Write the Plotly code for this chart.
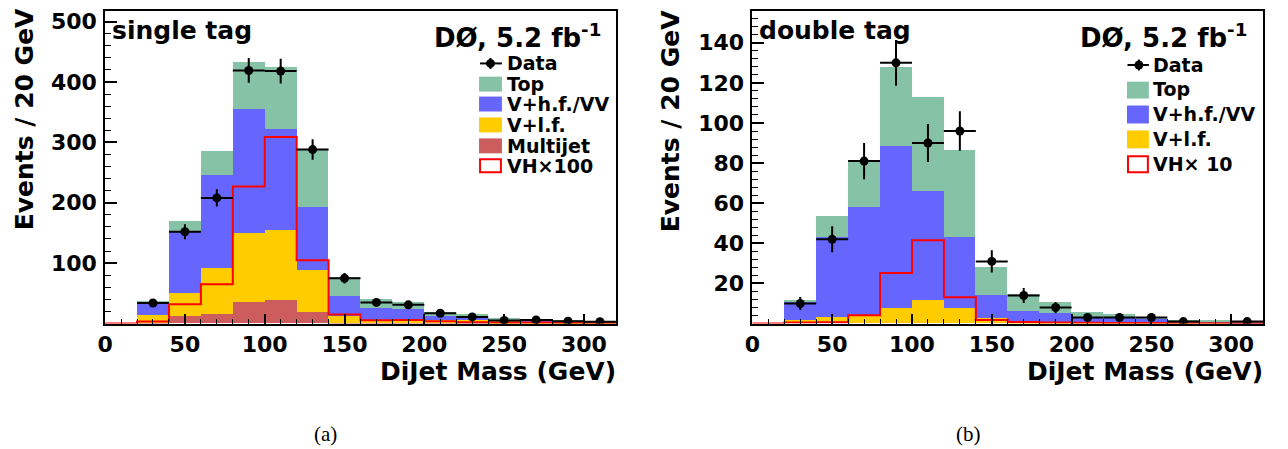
import plotly.graph_objects as go

# ---------------- data ----------------
bin_edges = [0, 20, 40, 60, 80, 100, 120, 140, 160, 180, 200, 220, 240, 260, 280, 300, 320]
x_tick_vals = [0, 50, 100, 150, 200, 250, 300]

# single tag (a)
st_multijet = [0, 1, 12, 15, 35, 39, 18, 1, 1, 1, 0.5, 0.5, 0.3, 0.3, 0.2, 0.2]
st_vlf = [0, 12, 38, 77, 114, 115, 70, 11.6, 5, 5, 4.5, 5.5, 2.7, 2.2, 1.8, 1.3]
st_vhf = [0, 21, 103, 154, 206, 168, 105, 32, 20, 17, 7, 4.5, 4, 2.5, 1.5, 1]
st_top = [0, 2, 16, 39, 77, 102, 95, 31.5, 14, 13, 7, 5.5, 2, 1.6, 2, 1]
st_data = [None, 34, 152, 208, 419, 418, 288, 75, 35, 31, 17, 11, 5, 6, 4, 3]
st_data_err = [0, 5.8, 12.3, 14.4, 20.5, 20.4, 17.0, 8.7, 5.9, 5.6, 4.1, 3.3, 2.2, 2.4, 2.0, 1.7]
st_vh100 = [0, 3.3, 32, 65, 227, 309, 105, 15, 5.5, 6, 4, 2.2, 1.8, 1.7, 1.5, 1.2]
st_y_ticks = [100, 200, 300, 400, 500]

# double tag (b)
dt_vlf = [0, 1.7, 3.3, 3.8, 7.8, 11.6, 7.8, 2.7, 0.8, 0.5, 0.4, 0.4, 0.3, 0.2, 0.2, 0.1]
dt_vhf = [0, 9.3, 39.7, 54.2, 80.7, 54.4, 35.2, 11.2, 5.2, 4.5, 2.6, 2.4, 1.8, 0.8, 0.6, 0.5]
dt_top = [0, 0.6, 10.3, 23.3, 39.5, 47, 43.5, 14, 8.5, 5.4, 2.8, 2, 1, 0.5, 0.4, 0.2]
dt_data = [None, 10, 42, 81, 130, 90, 96, 31, 14, 8, 3, 3, 3, 1, None, 1]
dt_data_err = [0, 3.2, 6.5, 9.0, 11.4, 9.5, 9.8, 5.6, 3.7, 2.8, 1.7, 1.7, 1.7, 1.0, 0, 1.0]
dt_vh10 = [0, 0.5, 0.7, 4.1, 25.2, 41.5, 13.1, 1.8, 0.8, 0.5, 0.4, 0.3, 0.3, 0.2, 0.2, 0.1]
dt_y_ticks = [20, 40, 60, 80, 100, 120, 140]

# ---------------- style ----------------
W, H = 1288, 449
C_TOP = "#86c2a5"
C_VHF = "#6666ff"
C_VLF = "#ffcc00"
C_MJ = "#cd5d5d"
C_VH = "#ff0000"
FONT = "DejaVu Sans"


def px(x):
    return x / W


def py(y):
    return 1 - y / H


centers = [(a + b) / 2 for a, b in zip(bin_edges[:-1], bin_edges[1:])]
widths = [b - a for a, b in zip(bin_edges[:-1], bin_edges[1:])]

fig = go.Figure()


def add_stack(vals, color, xa, ya):
    fig.add_trace(go.Bar(x=centers, y=vals, width=widths, marker=dict(color=color, line=dict(width=0)),
                         xaxis=xa, yaxis=ya, showlegend=False, hoverinfo="skip"))


def add_step(vals, xa, ya):
    fig.add_trace(go.Scatter(x=bin_edges, y=list(vals) + [vals[-1]], mode="lines",
                             line=dict(color=C_VH, width=2, shape="hv"),
                             xaxis=xa, yaxis=ya, showlegend=False))


def add_data(vals, errs, xa, ya):
    fig.add_trace(go.Scatter(x=centers, y=vals, mode="markers",
                             marker=dict(color="black", size=9),
                             error_y=dict(type="data", array=errs, color="black", thickness=2, width=0),
                             error_x=dict(type="data", array=[w / 2 for w in widths], color="black",
                                          thickness=2, width=0),
                             xaxis=xa, yaxis=ya, showlegend=False))


# panel (a)
add_stack(st_multijet, C_MJ, "x", "y")
add_stack(st_vlf, C_VLF, "x", "y")
add_stack(st_vhf, C_VHF, "x", "y")
add_stack(st_top, C_TOP, "x", "y")
add_step(st_vh100, "x", "y")
add_data(st_data, st_data_err, "x", "y")

# panel (b)
add_stack(dt_vlf, C_VLF, "x2", "y2")
add_stack(dt_vhf, C_VHF, "x2", "y2")
add_stack(dt_top, C_TOP, "x2", "y2")
add_step(dt_vh10, "x2", "y2")
add_data(dt_data, dt_data_err, "x2", "y2")


def xaxis_cfg(dom, anchor):
    return dict(domain=dom, range=[0, 320], anchor=anchor, tickvals=x_tick_vals,
                ticks="inside", ticklen=10, tickwidth=1.5, tickcolor="black",
                minor=dict(ticks="inside", ticklen=5, dtick=10, tick0=0, tickcolor="black", tickwidth=1),
                showline=True, linecolor="black", linewidth=1.5, mirror=True,
                showgrid=False, zeroline=False,
                tickfont=dict(family=FONT, size=22, color="black", weight="bold"))


def yaxis_cfg(rng, tv, mdt, anchor):
    return dict(domain=[py(323), py(9.3)], range=rng, anchor=anchor, tickvals=tv,
                ticks="inside", ticklen=12, tickwidth=1.5, tickcolor="black",
                minor=dict(ticks="inside", ticklen=6, dtick=mdt, tick0=0, tickcolor="black", tickwidth=1),
                showline=True, linecolor="black", linewidth=1.5, mirror=True,
                showgrid=False, zeroline=False, ticklabelstandoff=2,
                tickfont=dict(family=FONT, size=22, color="black", weight="bold"))


fig.update_layout(
    width=W, height=H, margin=dict(l=0, r=0, t=0, b=0),
    paper_bgcolor="white", plot_bgcolor="white",
    barmode="stack", bargap=0,
    xaxis=xaxis_cfg([px(97.7), px(611.7)], "y"),
    yaxis=yaxis_cfg([0, 517], st_y_ticks, 20, "x"),
    xaxis2=xaxis_cfg([px(749), px(1263)], "y2"),
    yaxis2=yaxis_cfg([0, 155.7], dt_y_ticks, 4, "x2"),
    showlegend=False,
)

ann = []
shapes = []


def text(x, y, s, size, xanchor="left", angle=0, family=FONT, weight="bold"):
    ann.append(dict(x=px(x), y=py(y), xref="paper", yref="paper", text=s, showarrow=False,
                    xanchor=xanchor, yanchor="middle", textangle=angle, borderpad=0,
                    font=dict(family=family, size=size, color="black", weight=weight)))


def box(x0, x1, y0, y1, fill, line_color=None):
    shapes.append(dict(type="rect", xref="paper", yref="paper", x0=px(x0), x1=px(x1), y0=py(y1), y1=py(y0),
                       fillcolor=fill, line=dict(color=line_color or fill, width=2 if line_color else 0)))


def data_legend(x0, x1, xc, yc):
    shapes.append(dict(type="line", xref="paper", yref="paper", x0=px(x0), x1=px(x1), y0=py(yc), y1=py(yc),
                       line=dict(color="black", width=2)))
    shapes.append(dict(type="line", xref="paper", yref="paper", x0=px(xc), x1=px(xc), y0=py(yc - 5.5),
                       y1=py(yc + 5.5), line=dict(color="black", width=2)))
    shapes.append(dict(type="circle", xref="paper", yref="paper", x0=px(xc - 4.5), x1=px(xc + 4.5),
                       y0=py(yc + 4.5), y1=py(yc - 4.5), fillcolor="black", line=dict(width=0)))


# panel (a) texts
text(104, 29, "single tag", 25)
text(598, 34, "DØ, 5.2 fb<sup>-1</sup>", 26, xanchor="right")
data_legend(475, 497, 485.5, 61.7)
text(501, 61.7, "Data", 19)
box(474, 497, 75, 90, C_TOP); text(501, 82, "Top", 19)
box(474, 497, 95, 110, C_VHF); text(501, 102.5, "V+h.f./VV", 19)
box(474, 497, 116, 131, C_VLF); text(501, 123.5, "V+l.f.", 19)
box(474, 497, 137, 152, C_MJ); text(501, 144.5, "Multijet", 19)
box(475, 496, 158, 171, "white", C_VH); text(501, 164.5, "VH×100", 19)

# panel (b) texts
text(755, 29, "double tag", 25)
text(1248, 34, "DØ, 5.2 fb<sup>-1</sup>", 26, xanchor="right")
data_legend(1126.5, 1148, 1138, 63.3)
text(1151, 63.3, "Data", 19)
box(1126, 1148, 80, 97, C_TOP); text(1151, 87.5, "Top", 19)
box(1126, 1148, 104, 122, C_VHF); text(1151, 112.5, "V+h.f./VV", 19)
box(1126, 1148, 129, 147, C_VLF); text(1151, 138, "V+l.f.", 19)
box(1127, 1147, 155, 171, "white", C_VH); text(1151, 162.5, "VH× 10", 19)

# axis titles
text(613, 371, "DiJet Mass (GeV)", 25, xanchor="right")
text(1264, 371, "DiJet Mass (GeV)", 25, xanchor="right")
text(17, 118, "Events / 20 GeV", 25, xanchor="center", angle=-90)
text(667, 120, "Events / 20 GeV", 25, xanchor="center", angle=-90)

# captions
text(319, 434, "(a)", 21, xanchor="center", family="Liberation Serif", weight="normal")
text(967, 434, "(b)", 21, xanchor="center", family="Liberation Serif", weight="normal")

fig.update_layout(annotations=ann, shapes=shapes)

fig.write_html("out.html", config={"displayModeBar": False},
               post_script="document.body.style.margin='0';")
